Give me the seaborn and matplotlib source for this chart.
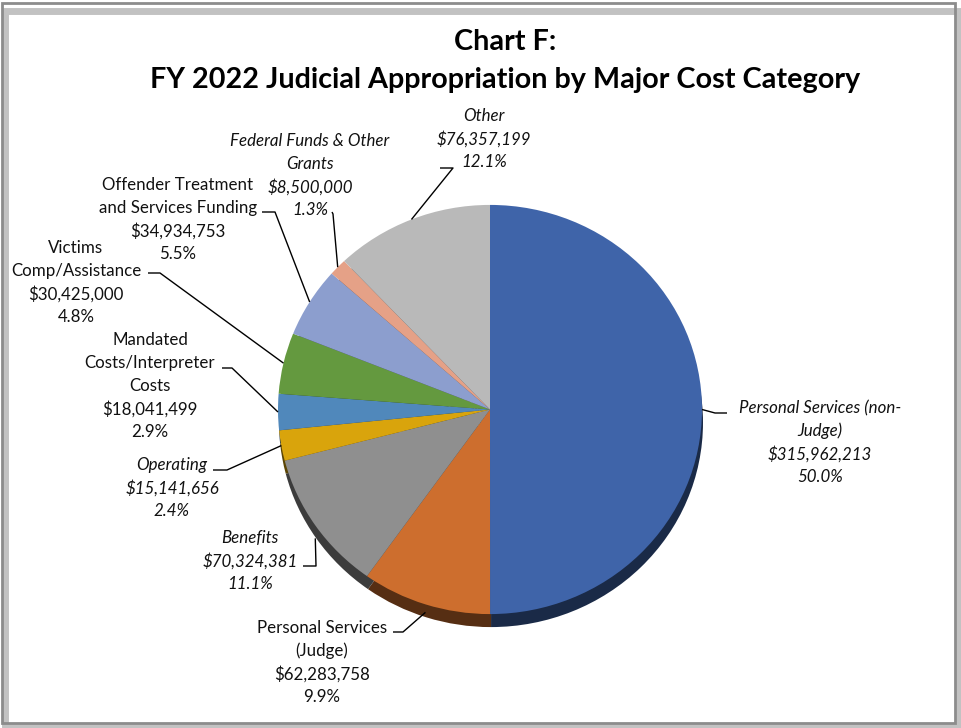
import matplotlib
matplotlib.use("Agg")
import matplotlib.pyplot as plt
import matplotlib.colors as mcolors
from matplotlib.patches import Rectangle
import numpy as np
import seaborn as sns

sns.set_theme(style="white")
plt.rcParams['font.family'] = ['Lato', 'DejaVu Sans']

# ---------------- data ----------------
categories = [
    "Personal Services (non-\nJudge)",
    "Personal Services\n(Judge)",
    "Benefits",
    "Operating",
    "Mandated\nCosts/Interpreter\nCosts",
    "Victims\nComp/Assistance",
    "Offender Treatment\nand Services Funding",
    "Federal Funds & Other\nGrants",
    "Other",
]
values = [315962213, 62283758, 70324381, 15141656, 18041499,
          30425000, 34934753, 8500000, 76357199]
italic = [True, False, True, True, False, False, False, True, True]
colors = ["#3F64A9", "#CD6E2E", "#8F8F8F", "#D9A40C", "#5088BB",
          "#64993F", "#8C9ECE", "#E5A187", "#B9B9B9"]
title = "Chart F:\nFY 2022 Judicial Appropriation by Major Cost Category"

# ---------------- layout ----------------
W, H = 961, 728
SY = 0.965  # vertical squash of pie
fig = plt.figure(figsize=(W / 100, H / 100), dpi=100)
ax = fig.add_axes([0, 0, 1, 1])


def P(px, py):
    return px, (H - py) / SY


cx, cy = P(490, 409.5)
R = 212

total = sum(values)
shadow_cols = []
for c in colors:
    r, g, b = mcolors.to_rgb(c)
    shadow_cols.append((r * 0.42, g * 0.42, b * 0.42))

# shadow pie
ax.pie(values, colors=shadow_cols, startangle=90, counterclock=False,
       radius=R, center=(cx + 1, cy - 13 / SY),
       wedgeprops=dict(linewidth=0))
wedges, _ = ax.pie(values, colors=colors, startangle=90, counterclock=False,
                   radius=R, center=(cx, cy),
                   wedgeprops=dict(linewidth=0))
ax.set_aspect('auto')
ax.set_xlim(0, W)
ax.set_ylim(0, H / SY)
ax.axis('off')

# label layout: (center x, first line y, anchor (x,y), elbow (x,y), extra down px)
layout = [
    (820, 408, (727, 413), (715, 413), 0),
    (322, 628, (393, 632), (403, 632), 8),
    (250, 538, (303, 566), (316, 566), 13),
    (172, 465, (213, 470), (227, 470), 0),
    (150, 340, (222, 368), (232, 368), 0),
    (76, 248, (148, 273), (160, 273), 0),
    (178, 185, (262, 212), (275, 212), 0),
    (310, 141, (332, 212), (333, 214), 0),
    (484, 116, (440, 168), (453, 168), 0),
]

LS = 23  # line spacing px
FS = 12.2
for i, (w, v) in enumerate(zip(wedges, values)):
    name = categories[i]
    lines = name.split("\n") + [f"${v:,.0f}", f"{100 * v / total:.1f}%"]
    tx, ty, anc, elb, extra = layout[i]
    for k, ln in enumerate(lines):
        x, y = P(tx, ty + k * LS)
        ax.text(x, y, ln, ha='center', va='center', fontsize=FS,
                style='italic' if italic[i] else 'normal', color='#111111')
    th = np.deg2rad((w.theta1 + w.theta2) / 2)
    ex = cx + R * np.cos(th)
    ey = cy + R * np.sin(th) - extra / SY
    a = P(*anc)
    e = P(*elb)
    ax.plot([a[0], e[0], ex], [a[1], e[1], ey], color='black', lw=1.0,
            solid_capstyle='butt', zorder=5)

fig.text(505 / W, 1 - 42 / H, "Chart F:", ha='center', va='center',
         fontsize=20.7, fontweight='bold', color='black')
fig.text(505 / W, 1 - 80 / H, title.split("\n")[1], ha='center', va='center',
         fontsize=20.7, fontweight='bold', color='black')

# frame with shadow
fig.patches.append(Rectangle((5 / W, 1 / H), 954 / W, 716 / H,
                             transform=fig.transFigure, facecolor='none',
                             edgecolor='#9a9a9a', lw=5, alpha=0.6, zorder=0))
fig.patches.append(Rectangle((2 / W, 5 / H), 953 / W, 720 / H,
                             transform=fig.transFigure, facecolor='none',
                             edgecolor='#8c8c8c', lw=2, zorder=1))

fig.savefig("out.png", dpi=100, facecolor='white')
